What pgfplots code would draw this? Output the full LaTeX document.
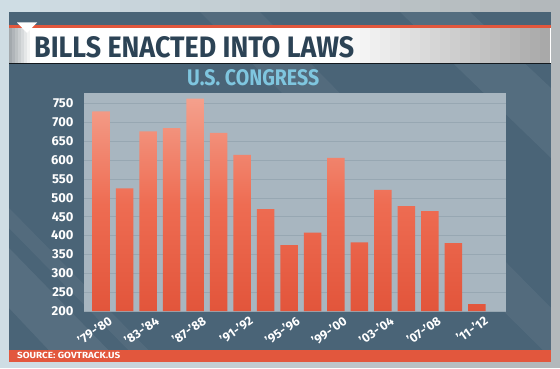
\documentclass[border=0pt]{standalone}
\usepackage{pgfplots}
\pgfplotsset{compat=1.18}
\usepackage{fontspec}
\setmainfont{Fira Sans}
\usepackage{graphicx}
\definecolor{panel}{HTML}{4A6477}
\definecolor{plotbg}{HTML}{A8B6C0}
\definecolor{gridc}{HTML}{97A7B2}
\definecolor{barTop}{HTML}{F4A08C}
\definecolor{barMid}{HTML}{EE6C52}
\definecolor{barBot}{HTML}{E2553B}
\definecolor{titlec}{HTML}{2C4355}
\definecolor{subc}{HTML}{7FC6DF}
\definecolor{redline}{HTML}{E2573D}
\definecolor{frameL}{HTML}{CFDDE4}
\definecolor{frameR}{HTML}{B3B8BB}
\definecolor{bandgray}{HTML}{A3A9AD}
\begin{document}
\begin{tikzpicture}[x=1bp,y=1bp]
\useasboundingbox (0,0) rectangle (560,368);
% outer frame, stepped gradient
\foreach \i in {0,...,13} {
  \pgfmathsetmacro{\p}{100-\i*100/13}
  \fill[frameL!\p!frameR] (\i*40,0) rectangle (\i*40+40.5,368);
}
\fill[panel] (9,6) rectangle (551,356);
% faint diagonal bands
\begin{scope}
\clip (9,6) rectangle (551,356);
\fill[white, opacity=0.07] (9,120) -- (9,60) -- (60,6) -- (120,6) -- cycle;
\fill[white, opacity=0.05] (9,160) -- (9,140) -- (140,6) -- (160,6) -- cycle;
\fill[white, opacity=0.06] (400,356) -- (470,356) -- (551,280) -- (551,210) -- cycle;
\fill[white, opacity=0.05] (200,356) -- (260,356) -- (551,60) -- (551,10) -- cycle;
\end{scope}
% title band
\fill[black!75!panel] (9,303.8) rectangle (551,305.2);
\fill[white] (9,305) rectangle (551,340);
\foreach \i in {0,...,6} {
  \pgfmathsetmacro{\p}{100-\i*100/7}
  \fill[bandgray!\p!white] (9+\i*3,305) rectangle (12.2+\i*3,340);
}
\foreach \i in {0,...,21} {
  \pgfmathsetmacro{\p}{\i*1.6}
  \fill[black!\p!white] (330+\i*10,305) rectangle (340.3+\i*10,340);
}
\fill[redline] (9,340) rectangle (551,342.7);
\fill[white] (17,345.5) -- (37,345.5) -- (27,335) -- cycle;
\node[anchor=south west, inner sep=0, text=titlec] at (34,310) {\resizebox{320bp}{21bp}{\bfseries BILLS ENACTED INTO LAWS}};
\node[anchor=south west, inner sep=0, text=subc] at (187,281.5) {\resizebox{132bp}{16bp}{\bfseries U.S. CONGRESS}};
% bottom source band
\fill[redline] (9,6) rectangle (551,18.5);
\node[anchor=south west, inner sep=0, text=white] at (17,8.8) {\resizebox{103bp}{6.3bp}{\bfseries SOURCE: GOVTRACK.US}};
\begin{axis}[
  at={(84bp,57bp)}, anchor=south west,
  scale only axis, width=422bp, height=218bp,
  xmin=-0.73, xmax=17.24, ymin=200, ymax=778,
  axis background/.style={fill=plotbg},
  axis line style={draw=none},
  tick style={draw=none},
  ytick={200,250,...,750},
  ymajorgrids, major grid style={draw=gridc, line width=0.7bp},
  xtick={0,2,...,16},
  xticklabels={},
  yticklabel style={text=white, font=\bfseries\fontsize{13}{13}\selectfont, anchor=east, xshift=-7bp},
  /pgf/number format/assume math mode=true,
  clip=false,
]
\addplot[ybar, bar width=17.5bp, draw=none, top color=barTop, bottom color=barBot, middle color=barMid] coordinates {
(0,729) (1,525) (2,676) (3,685) (4,763) (5,672) (6,614) (7,470) (8,375)
(9,408) (10,606) (11,382) (12,521) (13,478) (14,465) (15,380) (16,218)};
\foreach \k/\lab in {0/'79-'80, 2/'83-'84, 4/'87-'88, 6/'91-'92, 8/'95-'96, 10/'99-'00, 12/'03-'04, 14/'07-'08, 16/'11-'12} {
  \edef\temp{\noexpand\node[rotate=35, anchor=north east, inner sep=0pt, text=white, font=\noexpand\bfseries\noexpand\fontsize{12.5}{13}\noexpand\selectfont] at ([xshift=6.5bp, yshift=-4bp]axis cs:\k,200) {\lab};}
  \temp
}
\end{axis}
\end{tikzpicture}
\end{document}
